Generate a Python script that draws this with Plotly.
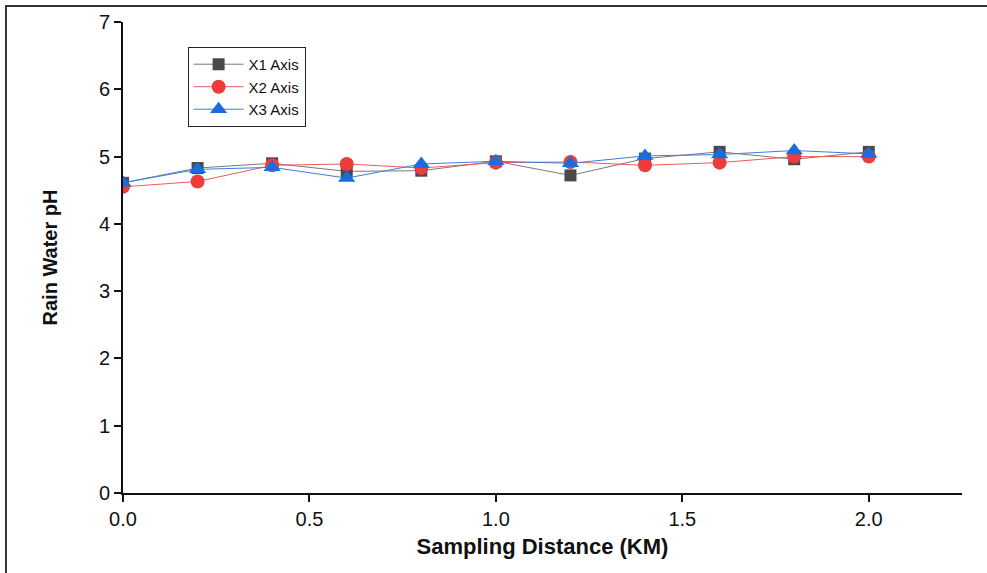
import plotly.graph_objects as go

distance_km = [0.0, 0.2, 0.4, 0.6, 0.8, 1.0, 1.2, 1.4, 1.6, 1.8, 2.0]
x1_axis = [4.61, 4.83, 4.90, 4.78, 4.79, 4.93, 4.72, 4.97, 5.07, 4.96, 5.07]
x2_axis = [4.55, 4.63, 4.87, 4.89, 4.83, 4.91, 4.92, 4.87, 4.91, 5.00, 5.00]
x3_axis = [4.61, 4.81, 4.84, 4.68, 4.89, 4.93, 4.90, 5.01, 5.03, 5.09, 5.04]
y_ticks = [0, 1, 2, 3, 4, 5, 6, 7]
x_ticks = [0.0, 0.5, 1.0, 1.5, 2.0]
x_tick_labels = ["0.0", "0.5", "1.0", "1.5", "2.0"]

fig = go.Figure()
fig.add_trace(go.Scatter(x=distance_km, y=x1_axis, name="X1 Axis", mode="lines+markers",
                         line=dict(color="#7a7a7a", width=1),
                         marker=dict(symbol="square", size=12, color="#4a4a4a")))
fig.add_trace(go.Scatter(x=distance_km, y=x2_axis, name="X2 Axis", mode="lines+markers",
                         line=dict(color="#f05a5a", width=1),
                         marker=dict(symbol="circle", size=14, color="#ee3b3b")))
fig.add_trace(go.Scatter(x=distance_km, y=x3_axis, name="X3 Axis", mode="lines+markers",
                         line=dict(color="#3a7fe0", width=1),
                         marker=dict(symbol="triangle-up", size=15, color="#1a6ddc")))

fig.update_layout(
    width=987, height=573,
    margin=dict(l=123, r=25, t=22, b=80),
    paper_bgcolor="white", plot_bgcolor="white",
    font=dict(family="Liberation Sans, Arial, sans-serif", color="#111"),
    showlegend=True,
    legend=dict(x=0.077, y=0.947, xanchor="left", yanchor="top",
                bordercolor="#222", borderwidth=1, bgcolor="white",
                font=dict(size=15), tracegroupgap=0, itemsizing="trace", itemwidth=50),
    xaxis=dict(range=[0, 2.25], tickvals=x_ticks, ticktext=x_tick_labels, automargin=False,
               showgrid=False, zeroline=False, showline=True, linecolor="#111", linewidth=2,
               ticks="outside", ticklen=7, tickwidth=2, tickcolor="#111",
               tickfont=dict(size=20),
               title=dict(text="<b>Sampling Distance (KM)</b>", font=dict(size=22), standoff=10)),
    yaxis=dict(range=[0, 7], tickvals=y_ticks, automargin=False,
               showgrid=False, zeroline=False, showline=True, linecolor="#111", linewidth=2,
               ticks="outside", ticklen=7, tickwidth=2, tickcolor="#111",
               tickfont=dict(size=20),
               title=dict(text="<b>Rain Water pH</b>", font=dict(size=20, family="Liberation Sans Narrow, Arial Narrow, Liberation Sans"), standoff=36)),
    shapes=[dict(type="rect", xref="paper", yref="paper", x0=-0.1395, x1=1.5, y0=-0.6, y1=1.034,
                 line=dict(color="#333", width=2), fillcolor="rgba(0,0,0,0)", layer="below")],
)
fig.write_html("out.html", config={"displayModeBar": False},
               post_script="document.body.style.margin='0';document.body.style.overflow='hidden';")
